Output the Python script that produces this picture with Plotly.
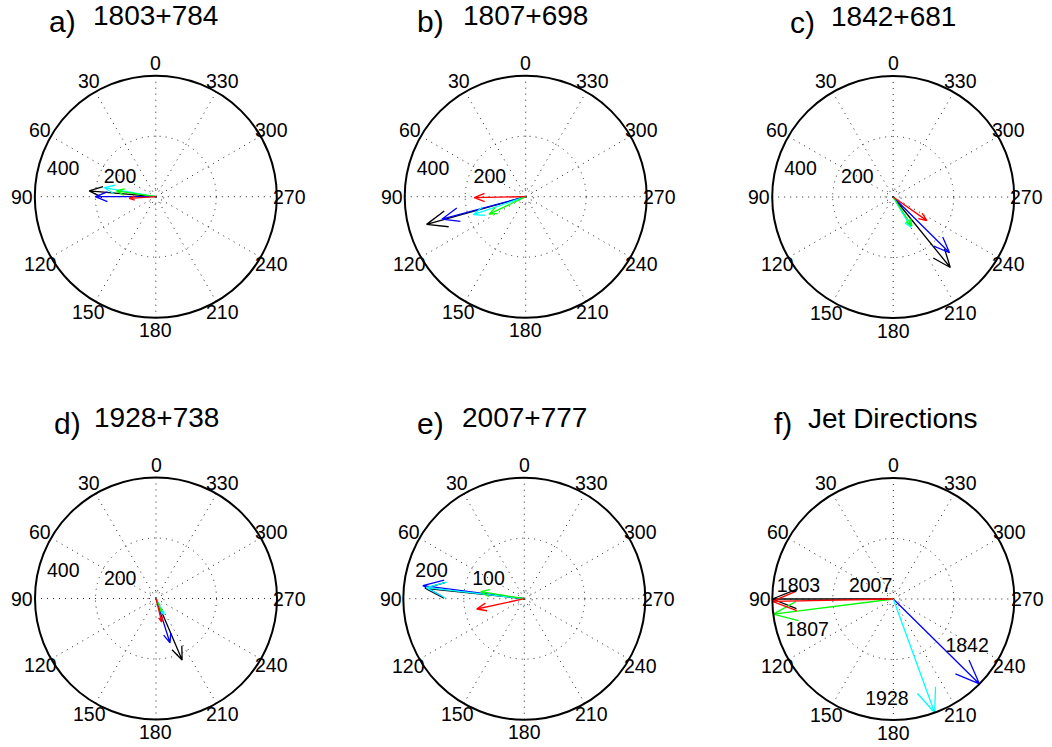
import numpy as np
import plotly.graph_objects as go

# ---------------- data ----------------
PANEL_LETTERS = ["a)", "b)", "c)", "d)", "e)", "f)"]
PANEL_TITLES = ["1803+784", "1807+698", "1842+681", "1928+738", "2007+777", "Jet Directions"]
R_MAX = [400, 400, 400, 400, 200, 1]
RADIAL_TICKS = [[200, 400], [200, 400], [200, 400], [200, 400], [100, 200], [0.5, 1]]
RADIAL_TICK_LABELS = [["200", "400"], ["200", "400"], ["200", "400"], ["200", "400"], ["100", "200"], []]
ANGLE_TICKS = [0, 30, 60, 90, 120, 150, 180, 210, 240, 270, 300, 330]
ANGLE_TICK_LABELS = [str(a) for a in ANGLE_TICKS]

SERIES_COLORS = ["black", "blue", "cyan", "lime", "red"]
# magnitudes per panel, one value per series colour (black, blue, cyan, green, red)
MAGNITUDES = [
    [221, 200, 174, 132, 88],
    [340, 287, 183, 134, 170],
    [300, 262, 116, 114, 136],
    [221, 154, 59, 48, 80],
    [165, 169, 163, 73, 80.5],
    [1, 1, 1, 1, 1],
]
# directions (degrees, compass-style: 0 up, 90 left)
DIRECTIONS = [
    [85, 90, 80, 81.5, 93.5],
    [105.6, 105, 109, 115.5, 91],
    [219, 225.3, 210.3, 212.8, 235],
    [203, 197.5, 206.6, 203, 193.7],
    [84, 82.7, 83.6, 80.8, 102.2],
    [90, 225.4, 200, 97.2, 91.1],
]
# panel f labels (source names) for the jet direction vectors
JET_LABELS = ["1803", "2007", "1807", "1842", "1928"]
JET_LABEL_R = [0.79, 0.21, 0.76, 0.73, 0.84]
JET_LABEL_THETA = [82.6, 63.4, 110.6, 236.7, 176.4]

# ---------------- layout geometry (screen pixels) ----------------
W, H = 1052, 747
CENTERS_PX = [(155.8, 196.7), (525.7, 196.7), (893.2, 197.0),
              (156.0, 598.5), (524.3, 598.7), (893.3, 599.0)]
LETTER_X_PX = [62.5, 430.5, 802.5, 67.5, 430.0, 782.5]
R_PX = 121.0
INNER_RING_FRAC = 0.066
LABEL_R_FRAC = 1.105

FONT = "Liberation Sans, Arial, Helvetica, sans-serif"
TICK_SIZE = 19.5
GRID_DASH = "1px,5px"
GRID_COLOR = "#222"

fig = go.Figure()


def arrow(L, th):
    rb = L * np.hypot(0.8, 0.08)
    dth = np.degrees(np.arctan2(0.08, 0.8))
    return [0, L, rb, L, rb], [th, th, th + dth, th, th - dth]


def fx(px):
    return px / W


def fy(py):
    return (H - py) / H


annotations = []
ring_theta = np.arange(0, 361, 3)
for i in range(6):
    sp = "polar" if i == 0 else f"polar{i+1}"
    rmax = R_MAX[i]
    cx, cy = CENTERS_PX[i]
    # small inner ring
    fig.add_trace(go.Scatterpolar(r=[rmax * INNER_RING_FRAC] * len(ring_theta), theta=ring_theta,
                                  mode="lines", line=dict(color=GRID_COLOR, width=1, dash=GRID_DASH),
                                  subplot=sp, showlegend=False, hoverinfo="skip"))
    # arrows
    for c, L, th in zip(SERIES_COLORS, MAGNITUDES[i], DIRECTIONS[i]):
        r, t = arrow(L, th)
        fig.add_trace(go.Scatterpolar(r=r, theta=t, mode="lines",
                                      line=dict(color=c, width=1.3),
                                      subplot=sp, showlegend=False, hoverinfo="skip"))
    # radial labels
    ticks = RADIAL_TICKS[i]
    if RADIAL_TICK_LABELS[i]:
        rinc = ticks[0]
        fig.add_trace(go.Scatterpolar(r=[min(v + rinc / 20, rmax) for v in ticks],
                                      theta=[82] * len(ticks), mode="text",
                                      text=["\u00a0\u00a0" + s for s in RADIAL_TICK_LABELS[i]],
                                      textposition="top right", cliponaxis=False,
                                      textfont=dict(family=FONT, size=TICK_SIZE, color="black"),
                                      subplot=sp, showlegend=False, hoverinfo="skip"))
    if i == 5:
        fig.add_trace(go.Scatterpolar(r=JET_LABEL_R, theta=JET_LABEL_THETA, mode="text",
                                      text=JET_LABELS, textposition="middle center",
                                      cliponaxis=False,
                                      textfont=dict(family=FONT, size=TICK_SIZE, color="black"),
                                      subplot=sp, showlegend=False, hoverinfo="skip"))

    # angular tick labels, centred just outside the rim (compass layout)
    for a, lab in zip(ANGLE_TICKS, ANGLE_TICK_LABELS):
        rad = np.radians(a)
        lx = cx - LABEL_R_FRAC * R_PX * np.sin(rad)
        ly = cy - LABEL_R_FRAC * R_PX * np.cos(rad)
        annotations.append(dict(text=lab, x=fx(lx), y=fy(ly), xref="paper", yref="paper",
                                xanchor="center", yanchor="middle", showarrow=False,
                                font=dict(family=FONT, size=TICK_SIZE, color="black")))

    dom_x = [fx(cx - R_PX), fx(cx + R_PX)]
    dom_y = [fy(cy + R_PX), fy(cy - R_PX)]
    fig.layout[sp] = dict(
        domain=dict(x=dom_x, y=dom_y),
        bgcolor="white",
        angularaxis=dict(rotation=90, direction="counterclockwise",
                         tickvals=ANGLE_TICKS, showticklabels=False, ticks="",
                         showline=True, linecolor="black", linewidth=2,
                         showgrid=True, gridcolor=GRID_COLOR, gridwidth=1, griddash=GRID_DASH),
        radialaxis=dict(range=[0, rmax], tickvals=[ticks[0]],
                        showticklabels=False, ticks="", showline=False,
                        showgrid=True, gridcolor=GRID_COLOR, gridwidth=1, griddash=GRID_DASH),
    )
    annotations.append(dict(text=PANEL_TITLES[i], x=fx(cx), y=fy(cy - 181),
                            xref="paper", yref="paper", xanchor="center", yanchor="middle",
                            showarrow=False, font=dict(family=FONT, size=28, color="black")))
    annotations.append(dict(text=PANEL_LETTERS[i], x=fx(LETTER_X_PX[i]), y=fy(cy - 175),
                            xref="paper", yref="paper", xanchor="center", yanchor="middle",
                            showarrow=False, font=dict(family=FONT, size=30, color="black")))

fig.update_layout(width=W, height=H, margin=dict(l=0, r=0, t=0, b=0),
                  paper_bgcolor="white", plot_bgcolor="white",
                  annotations=annotations, showlegend=False)

fig.write_html("out.html", config={"displayModeBar": False},
               post_script="document.body.style.margin='0';")
